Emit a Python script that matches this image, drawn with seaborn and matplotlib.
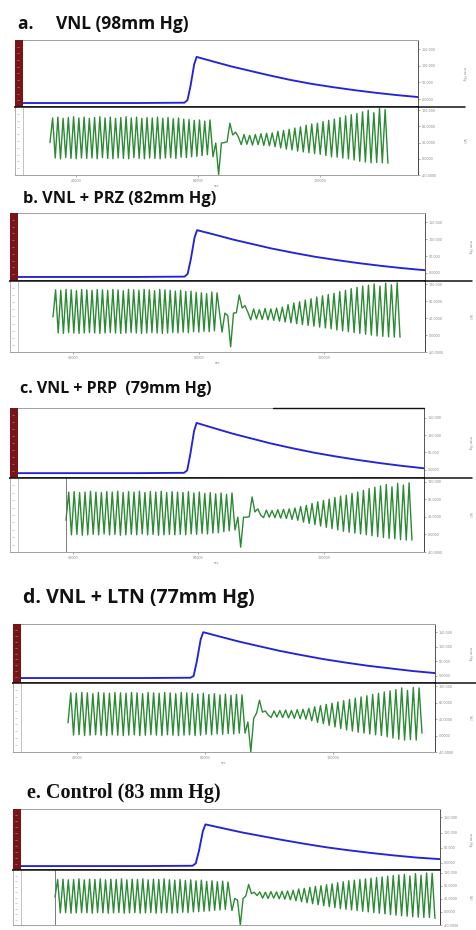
import numpy as np
import matplotlib
matplotlib.use("Agg")
import matplotlib.pyplot as plt
import seaborn as sns
from matplotlib.patches import Rectangle
from matplotlib.lines import Line2D

# ---------------- data ----------------
titles = ["a.     VNL (98mm Hg)", "b. VNL + PRZ (82mm Hg)", "c. VNL + PRP  (79mm Hg)",
          "d. VNL + LTN (77mm Hg)", "e. Control (83 mm Hg)"]

x_ticks = [40000, 80000, 120000]
x_tick_labels = ["40000", "80000", "120000"]
blue_yticks = [0, 50, 100, 150]
blue_ytick_labels = ["0.0000", "50.000", "100.000", "150.000"]
green_yticks = [-40, 0, 40, 80, 120]
green_ytick_labels = ["-40.0000", "0.0000", "40.0000", "80.0000", "120.000"]

blue_t = [20000, 40000, 60000, 75500, 76500, 77500, 78700, 79500, 85000, 91000, 97000,
          103000, 110000, 117000, 124000, 131000, 138000, 145000, 152000]
blue_a = [-12, -12, -12, -11, -3, 40, 105, 127, 113, 98, 85, 72, 58, 46, 36, 27, 19, 12, 6]
blue_b = [-12, -12, -12, -11, -3, 40, 105, 127, 114, 99, 86, 73, 60, 48, 38, 29, 21, 14, 8]
blue_c = [-10, -10, -10, -9, -2, 45, 112, 135, 120, 104, 90, 76, 62, 49, 38, 28, 19, 11, 4]
blue_d = [-7, -7, -7, -6, 0, 50, 125, 150, 134, 117, 102, 87, 72, 58, 46, 35, 26, 17, 10]
blue_e = [-11, -11, -11, -10, -2, 40, 105, 127, 114, 100, 88, 76, 63, 51, 41, 32, 24, 17, 12]

# green traces: left segment and right segment, with their start / end times
green_span_a = [31463, 83863, 84845, 142158]
green_left_a = [40,
    101, 2, 103, 0, 100, 3, 102, 1, 104, 0, 101, 2, 103, 1, 100, 2, 102, 0, 104, 3,
    101, 1, 103, 0, 100, 2, 102, 1, 104, 0, 101, 3, 103, 1, 100, 0, 102, 2, 101, 1,
    103, 0, 100, 2, 102, 3, 99, 1, 101, 4, 98, 3, 97, 5, 95, 6, 96, 8, 93, 10,
    96]
green_right_a = [5, 39, -39, 39, 40, 42, 88, 59, 66, 54,
    35, 60, 36, 58, 34, 60, 35, 62, 33, 63, 32, 64, 30,
    68, 27, 70, 24, 73, 22, 76, 19, 79, 17, 83, 15, 86, 13, 88, 11, 92, 8, 95, 5,
    98, 4, 102, 2, 106, 0, 109, -3, 112, -6, 116, -8, 120, -10, 114, -9, 125, -10, 122, -11]

green_span_b = [33678, 85847, 87438, 144059]
green_left_b = [43,
    107, 5, 106, 4, 108, 6, 107, 5, 105, 4, 108, 5, 107, 6, 106, 5, 108, 4, 107, 5,
    106, 6, 108, 5, 107, 4, 105, 5, 108, 6, 107, 5, 106, 4, 108, 5, 107, 6, 105, 5,
    108, 4, 107, 5, 106, 6, 104, 5, 106, 7, 103, 6, 104, 8, 101, 7, 100, 9, 98, 8,
    102, 10,
    100]
green_right_b = [7, 52, 46, -28, 52, 53, 95, 64, 70, 54,
    36, 62, 38, 60, 37, 63, 36, 62, 35, 64, 33, 66, 31,
    72, 29, 76, 27, 79, 25, 83, 23, 86, 21, 90, 19, 93, 17, 96, 15, 99, 12, 103, 10,
    106, 8, 110, 6, 113, 4, 116, 2, 118, 0, 121, -2, 116, -3, 123, -4, 119, -5, 124, -5]

green_span_c = [37853, 90774, 91730, 148158]
green_left_c = [32,
    96, -1, 97, 0, 95, -2, 96, -1, 98, 0, 96, -1, 95, 1, 97, -1, 96, 0, 98, -2,
    95, -1, 97, 0, 96, -1, 98, 1, 95, -1, 97, 0, 96, -2, 98, -1, 95, 0, 97, -1,
    96, 0, 95, -1, 97, 1, 94, 0, 96, 2, 93, 1, 95, 3, 92, 4, 94, 6, 91, 8,
    94]
green_right_c = [10, 39, -29, 39, 39, 40, 85, 51, 58, 44,
    38, 55, 39, 54, 38, 56, 37, 57, 36, 58, 34, 60, 32,
    63, 28, 66, 25, 70, 22, 74, 19, 77, 16, 80, 13, 84, 10, 87, 7, 89, 5, 93, 3,
    96, 1, 100, -1, 104, -3, 107, -5, 110, -7, 113, -9, 108, -10, 116, -12, 112, -13, 117, -13]

green_span_d = [37204, 91631, 92570, 147935]
green_left_d = [31,
    104, 1, 103, 2, 105, 0, 104, 1, 102, 2, 105, 1, 104, 0, 103, 2, 105, 1, 104, 0,
    103, 1, 105, 2, 104, 0, 102, 1, 105, 2, 104, 1, 103, 0, 105, 2, 104, 1, 102, 0,
    105, 1, 104, 2, 103, 0, 101, 1, 103, 3, 100, 2, 102, 4, 99, 3, 101, 5, 98, 4,
    100, 6,
    99]
green_right_d = [6, 33, -40, 42, 55, 86, 57, 60, 50, 44,
    60, 45, 61, 44, 62, 43, 61, 42, 63, 41, 64, 40, 66,
    36, 70, 32, 73, 29, 76, 25, 79, 21, 82, 17, 85, 14, 88, 11, 91, 8, 94, 6, 97,
    4, 100, 2, 103, 0, 106, -3, 109, -6, 112, -9, 116, -11, 110, -10, 117, -11, 116, 6]

green_span_e = [32982, 86457, 87693, 150440]
green_left_e = [45,
    99, -3, 100, -2, 98, -4, 99, -3, 101, -2, 98, -3, 100, -4, 99, -2, 101, -3, 98, -4,
    100, -3, 99, -2, 101, -4, 98, -3, 100, -2, 99, -4, 101, -3, 98, -2, 100, -4, 99, -3,
    101, -2, 98, -4, 97, -3, 99, -1, 96, -2, 98, 0, 95, 1, 97, 2, 93, 3, 95, 5,
    92, 6, 94, 8,
    91]
green_right_e = [4, 41, 36, -40, 41, 49, 84, 56, 60, 50,
    61, 42, 60, 41, 62, 42, 61, 40, 63, 39, 64, 37, 66,
    34, 70, 31, 72, 28, 75, 25, 78, 22, 80, 19, 83, 16, 86, 13, 89, 10, 92, 8, 95,
    6, 97, 4, 99, 2, 101, 0, 103, -2, 105, -4, 107, -6, 109, -8, 111, -10, 113, -12, 115,
    -13, 110, -15, 117, -16, 112, -17, 119, -17, 118, -20]

blues = [blue_a, blue_b, blue_c, blue_d, blue_e]
greens = [(green_span_a, green_left_a, green_right_a),
          (green_span_b, green_left_b, green_right_b),
          (green_span_c, green_left_c, green_right_c),
          (green_span_d, green_left_d, green_right_d),
          (green_span_e, green_left_e, green_right_e)]

# ---------------- layout (pixels) ----------------
W, H = 477, 930
# left, right, top, mid, bottom, title x, title baseline, extension end, start-line flag
layout = [
    (15, 418, 40, 107, 175, 18, 29, 465, False),
    (10, 425, 213, 281, 352, 23, 203, 472, False),
    (10, 424, 408, 478, 552, 20, 393, 472, True),
    (13, 435, 624, 683, 752, 23, 603, 477, False),
    (13, 440, 809, 870, 925, 27, 798, None, True),
]
title_sizes = [12.5, 11.8, 11.5, 14.0, 14.5]

sns.set_theme(style="white")
plt.rcParams["font.family"] = ["DejaVu Sans"]

fig = plt.figure(figsize=(W / 100, H / 100), dpi=100)
fig.patch.set_facecolor("white")


def rect(L, R, top, bot):
    return [L / W, 1 - bot / H, (R - L) / W, (bot - top) / H]


tick_kw = dict(labelsize=2.4, colors="#8a8a8a", length=1.6, width=0.5, pad=1.2)

for i, (L, R, y0, y1, y2, tx, tyb, ext, startline) in enumerate(layout):
    ax_t = fig.add_axes(rect(L, R, y0, y1))
    ax_b = fig.add_axes(rect(L, R, y1, y2))

    # blue trace
    sns.lineplot(x=blue_t, y=blues[i], ax=ax_t, color="#2323d8", linewidth=1.35, estimator=None)
    ax_t.set_xlim(20000, 152000)
    ax_t.set_ylim(-24, 178)
    ax_t.set_xticks([])
    ax_t.set_xlabel("")
    ax_t.set_ylabel("")
    ax_t.yaxis.tick_right()
    ax_t.set_yticks(blue_yticks)
    ax_t.set_yticklabels(blue_ytick_labels)
    ax_t.tick_params(axis="y", which="both", right=True, **tick_kw)
    for s, c in (("top", "#a0a0a0"), ("left", "#a0a0a0"), ("right", "#555555"), ("bottom", "#111111")):
        ax_t.spines[s].set_color(c)
        ax_t.spines[s].set_linewidth(0.7 if s != "bottom" else 1.1)
    barw = 8 / (R - L)
    ax_t.add_patch(Rectangle((0, 0), barw, 1, transform=ax_t.transAxes,
                             facecolor="#7a1517", edgecolor="none", zorder=3))
    for k in range(1, 10):
        ax_t.plot([barw * 0.3, barw * 0.55], [k / 10, k / 10], transform=ax_t.transAxes,
                  color="#c98a8a", lw=0.4, zorder=4)

    # green trace
    span, left, right = greens[i]
    tl = np.linspace(span[0], span[1], len(left))
    tr = np.linspace(span[2], span[3], len(right))
    gt = np.concatenate([tl, tr])
    gv = np.concatenate([left, right])
    sns.lineplot(x=gt, y=gv, ax=ax_b, color="#2c8a35", linewidth=1.0, estimator=None, sort=False)
    ax_b.set_xlim(20000, 152000)
    ax_b.set_ylim(-40, 128)
    ax_b.set_ylabel("")
    ax_b.set_xticks(x_ticks)
    if i < 4:
        ax_b.set_xticklabels(x_tick_labels)
        ax_b.tick_params(axis="x", bottom=True, **tick_kw)
        ax_b.set_xlabel("sec", fontsize=2.4, color="#8a8a8a", labelpad=0.6)
    else:
        ax_b.set_xticklabels([])
        ax_b.tick_params(axis="x", bottom=False)
        ax_b.set_xlabel("")
    ax_b.yaxis.tick_right()
    ax_b.set_yticks(green_yticks)
    ax_b.set_yticklabels(green_ytick_labels)
    ax_b.tick_params(axis="y", right=True, **tick_kw)
    for s, c in (("top", "#111111"), ("left", "#b0b0b0"), ("right", "#444444"), ("bottom", "#a0a0a0")):
        ax_b.spines[s].set_color(c)
        ax_b.spines[s].set_linewidth(0.7 if s != "top" else 1.1)
    ax_b.plot([barw, barw], [0, 1], transform=ax_b.transAxes, color="#b8b8b8", lw=0.6)
    for k in range(1, 10):
        ax_b.plot([barw * 0.3, barw * 0.55], [k / 10, k / 10], transform=ax_b.transAxes,
                  color="#b0b0b0", lw=0.4)
    if startline:
        ax_b.axvline(span[0], color="#666666", lw=0.6)
    if i == 2:
        ax_t.plot([0.635, 1.0], [1.0, 1.0], transform=ax_t.transAxes, color="#111111",
                  lw=1.0, clip_on=False, zorder=10)

    # black extension line at the boundary
    if ext is not None:
        fig.add_artist(Line2D([R / W, ext / W], [1 - y1 / H, 1 - y1 / H], color="#111111", lw=1.1))

    # unit labels at far right
    ux = min(R + 46, 470) / W
    fig.text(ux, 1 - ((y0 + y1) / 2) / H, "mm Hg", rotation=270, fontsize=2.6,
             color="#8a8a8a", ha="center", va="center")
    fig.text(ux, 1 - ((y1 + y2) / 2) / H, "Vol", rotation=270, fontsize=2.6,
             color="#8a8a8a", ha="center", va="center")

    # panel title
    if i == 4:
        fam = ["Liberation Serif", "DejaVu Serif"]
    else:
        fam = ["Open Sans", "DejaVu Sans"]
    fig.text(tx / W, 1 - tyb / H, titles[i], fontsize=title_sizes[i], fontweight="bold", family=fam,
             color="#111111", ha="left", va="baseline")

fig.savefig("out.png", dpi=100, facecolor="white")
